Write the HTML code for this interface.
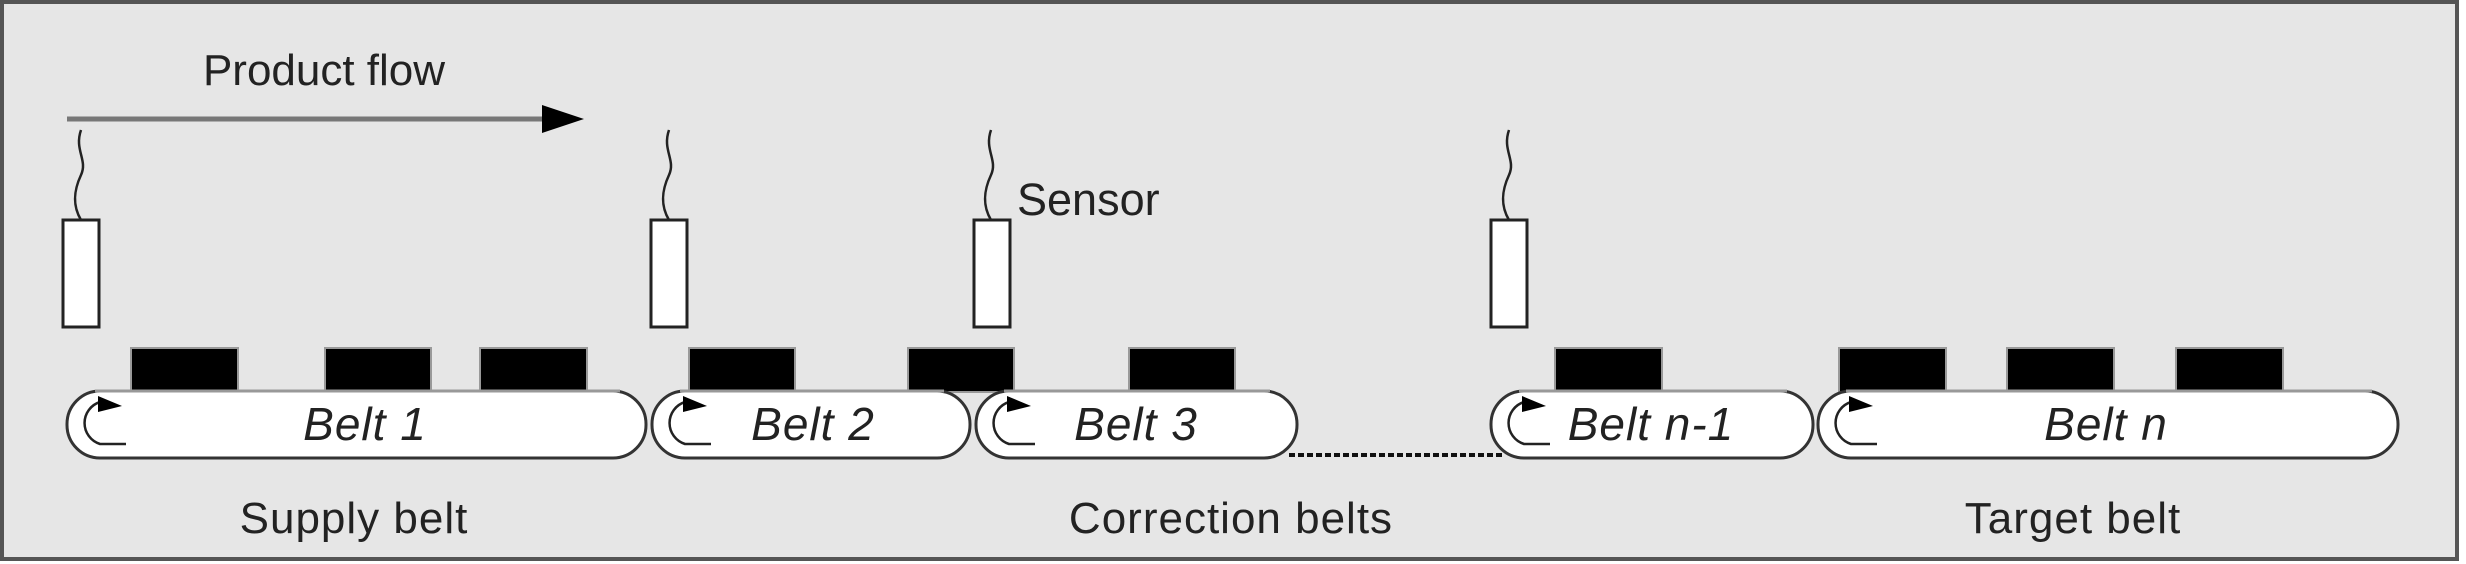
<!DOCTYPE html>
<html><head><meta charset="utf-8"><style>
html,body{margin:0;padding:0;background:#e6e6e6}
svg{display:block}
text{font-family:"Liberation Sans",sans-serif;fill:#222}
</style></head><body>
<svg width="2466" height="564" viewBox="0 0 2466 564" xmlns="http://www.w3.org/2000/svg">
<rect x="0" y="0" width="2466" height="564" fill="#fff"/>
<rect x="2" y="2" width="2455" height="557" fill="#e6e6e6" stroke="#555" stroke-width="4"/>

<text x="324" y="85" font-size="44" text-anchor="middle">Product flow</text>
<line x1="67" y1="119" x2="548" y2="119" stroke="#777" stroke-width="5"/>
<polygon points="542,105 584,119 542,133" fill="#000"/>

<g fill="none" stroke="#222" stroke-width="2.5">
<path d="M81,130 C74,150 88,160 81,175 C74,190 72,205 81,220"/>
<path d="M669,130 C662,150 676,160 669,175 C662,190 660,205 669,220"/>
<path d="M991,130 C984,150 998,160 991,175 C984,190 982,205 991,220"/>
<path d="M1509,130 C1502,150 1516,160 1509,175 C1502,190 1500,205 1509,220"/>
</g>
<g fill="#fff" stroke="#222" stroke-width="3">
<rect x="63" y="220" width="36" height="107"/>
<rect x="651" y="220" width="36" height="107"/>
<rect x="974" y="220" width="36" height="107"/>
<rect x="1491" y="220" width="36" height="107"/>
</g>
<text x="1017" y="215" font-size="45">Sensor</text>

<g fill="#000" stroke="#999" stroke-width="2">
<rect x="131" y="348" width="107" height="44"/>
<rect x="325" y="348" width="106" height="44"/>
<rect x="480" y="348" width="107" height="44"/>
<rect x="689" y="348" width="106" height="44"/>
<rect x="908" y="348" width="106" height="44"/>
<rect x="1129" y="348" width="106" height="44"/>
<rect x="1555" y="348" width="107" height="44"/>
<rect x="1839" y="348" width="107" height="44"/>
<rect x="2007" y="348" width="107" height="44"/>
<rect x="2176" y="348" width="107" height="44"/>
</g>

<line x1="1289" y1="455" x2="1503" y2="455" stroke="#111" stroke-width="4" stroke-dasharray="6,3"/>

<g fill="#fff" stroke="#333" stroke-width="3">
<rect x="67" y="391" width="579" height="67" rx="33" ry="33"/>
<rect x="652" y="391" width="318" height="67" rx="33" ry="33"/>
<rect x="976" y="391" width="321" height="67" rx="33" ry="33"/>
<rect x="1491" y="391" width="322" height="67" rx="33" ry="33"/>
<rect x="1818" y="391" width="580" height="67" rx="33" ry="33"/>
</g>
<g stroke="#999" stroke-width="3">
<line x1="95" y1="391" x2="620" y2="391"/>
<line x1="680" y1="391" x2="944" y2="391"/>
<line x1="1004" y1="391" x2="1270" y2="391"/>
<line x1="1519" y1="391" x2="1787" y2="391"/>
<line x1="1846" y1="391" x2="2372" y2="391"/>
</g>

<g fill="none" stroke="#222" stroke-width="2.5">
<path d="M100,402 A22,22 0 0 0 100,444 L126,444"/>
<path d="M685,402 A22,22 0 0 0 685,444 L711,444"/>
<path d="M1009,402 A22,22 0 0 0 1009,444 L1035,444"/>
<path d="M1524,402 A22,22 0 0 0 1524,444 L1550,444"/>
<path d="M1851,402 A22,22 0 0 0 1851,444 L1877,444"/>
</g>
<g fill="#000">
<polygon points="98,396 98,412 122,406"/>
<polygon points="683,396 683,412 707,406"/>
<polygon points="1007,396 1007,412 1031,406"/>
<polygon points="1522,396 1522,412 1546,406"/>
<polygon points="1849,396 1849,412 1873,406"/>
</g>

<g font-size="46" font-style="italic" text-anchor="middle" letter-spacing="1">
<text x="365" y="440">Belt 1</text>
<text x="813" y="440">Belt 2</text>
<text x="1136" y="440">Belt 3</text>
<text x="1651" y="440">Belt n-1</text>
<text x="2106" y="440">Belt n</text>
</g>

<g font-size="44" text-anchor="middle" letter-spacing="1">
<text x="354" y="533">Supply belt</text>
<text x="1231" y="533">Correction belts</text>
<text x="2073" y="533">Target belt</text>
</g>
</svg>
</body></html>
